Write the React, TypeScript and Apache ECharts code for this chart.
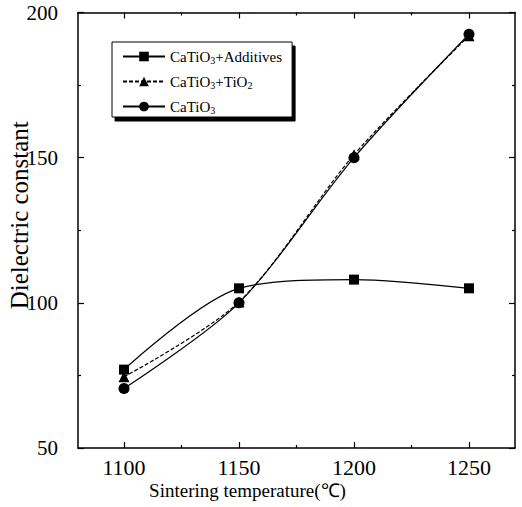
import React, { useEffect, useRef } from "react";
import * as echarts from "echarts";

const temperatures = [1100, 1150, 1200, 1250];
const additivesValues = [77, 105, 108, 105];
const tio2Values = [74.5, 100.3, 151, 192];
const catio3Values = [70.5, 100, 150, 192.5];
const seriesNames = ["CaTiO3+Additives", "CaTiO3+TiO2", "CaTiO3"];
const legendRich: Record<string, string> = {
  "CaTiO3+Additives": "{n|CaTiO}{s|3}{n|+Additives}",
  "CaTiO3+TiO2": "{n|CaTiO}{s|3}{n|+TiO}{s|2}",
  CaTiO3: "{n|CaTiO}{s|3}",
};
const xMajorTicks = [1100, 1150, 1200, 1250];
const xMinorTicks = [1125, 1175, 1225];

const FONT = "'Liberation Serif', 'Times New Roman', serif";

export default function App() {
  const ref = useRef<HTMLDivElement>(null);
  useEffect(() => {
    if (!ref.current) return;
    const chart = echarts.init(ref.current, null, { renderer: "svg" });
    const axisLine = { show: true, lineStyle: { color: "#000", width: 1.5 } };
    const baseX = { type: "value", min: 1080, max: 1270, splitLine: { show: false } };
    const baseY = { type: "value", min: 50, max: 200, interval: 50, splitLine: { show: false } };
    chart.setOption({
      animation: false,
      backgroundColor: "#fff",
      grid: { left: 78, top: 12.5, right: 7, bottom: 59, containLabel: false, outerBoundsMode: "none" },
      legend: {
        orient: "vertical",
        left: 112,
        top: 42,
        data: seriesNames,
        itemWidth: 42,
        itemHeight: 12,
        itemGap: 9,
        padding: [7, 10, 2, 10],
        backgroundColor: "#fff",
        borderColor: "#000",
        borderWidth: 1,
        shadowColor: "#000",
        shadowBlur: 0,
        shadowOffsetX: 3,
        shadowOffsetY: 4,
        formatter: (name: string) => legendRich[name] || name,
        textStyle: {
          fontFamily: FONT,
          color: "#000",
          rich: {
            n: { fontFamily: FONT, fontSize: 15, lineHeight: 17, color: "#000" },
            s: { fontFamily: FONT, fontSize: 10, lineHeight: 10, verticalAlign: "bottom", color: "#000" },
          },
        },
      },
      xAxis: [
        {
          ...baseX,
          position: "bottom",
          name: "Sintering temperature(℃)",
          nameLocation: "middle",
          nameGap: 33,
          nameMoveOverlap: false,
          nameTextStyle: { fontFamily: FONT, fontSize: 19, color: "#000", padding: [0, 98, 0, 0] },
          axisLine,
          axisTick: { show: true, inside: true, length: 6, customValues: xMajorTicks, lineStyle: { color: "#000", width: 1.2 } },
          axisLabel: {
            show: true,
            customValues: xMajorTicks,
            margin: 8,
            fontFamily: FONT,
            fontSize: 22,
            color: "#000",
            formatter: (v: number) => String(v),
          },
        },
        {
          ...baseX,
          position: "bottom",
          axisLine: { show: false },
          axisTick: { show: true, inside: true, length: 3, customValues: xMinorTicks, lineStyle: { color: "#000", width: 1.2 } },
          axisLabel: { show: false },
        },
        {
          ...baseX,
          position: "top",
          axisLine,
          axisTick: { show: true, inside: true, length: 6, customValues: xMajorTicks, lineStyle: { color: "#000", width: 1.2 } },
          axisLabel: { show: false },
        },
        {
          ...baseX,
          position: "top",
          axisLine: { show: false },
          axisTick: { show: true, inside: true, length: 3, customValues: xMinorTicks, lineStyle: { color: "#000", width: 1.2 } },
          axisLabel: { show: false },
        },
      ],
      yAxis: [
        {
          ...baseY,
          position: "left",
          name: "Dielectric constant",
          nameLocation: "middle",
          nameGap: 46,
          nameMoveOverlap: false,
          nameTextStyle: { fontFamily: FONT, fontSize: 25, color: "#000", padding: [0, 0, 0, 30] },
          axisLine,
          axisTick: { show: true, inside: true, length: 6, lineStyle: { color: "#000", width: 1.2 } },
          minorTick: { show: true, splitNumber: 2, length: 3, lineStyle: { color: "#000", width: 1.2 } },
          axisLabel: { show: true, margin: 20, fontFamily: FONT, fontSize: 21, color: "#000" },
        },
        {
          ...baseY,
          position: "right",
          axisLine,
          axisTick: { show: true, inside: true, length: 6, lineStyle: { color: "#000", width: 1.2 } },
          minorTick: { show: true, splitNumber: 2, length: 3, lineStyle: { color: "#000", width: 1.2 } },
          axisLabel: { show: false },
        },
      ],
      series: [
        {
          name: seriesNames[0],
          type: "line",
          smooth: 0.3,
          symbol: "rect",
          symbolSize: 10,
          data: temperatures.map((t, i) => [t, additivesValues[i]]),
          lineStyle: { color: "#000", width: 1.2, type: "solid" },
          itemStyle: { color: "#000" },
        },
        {
          name: seriesNames[1],
          type: "line",
          smooth: 0.3,
          symbol: "triangle",
          symbolSize: 11,
          data: temperatures.map((t, i) => [t, tio2Values[i]]),
          lineStyle: { color: "#000", width: 1.2, type: [4, 2] },
          itemStyle: { color: "#000" },
        },
        {
          name: seriesNames[2],
          type: "line",
          smooth: 0.3,
          symbol: "circle",
          symbolSize: 11,
          data: temperatures.map((t, i) => [t, catio3Values[i]]),
          lineStyle: { color: "#000", width: 1.2, type: "solid" },
          itemStyle: { color: "#000" },
        },
      ],
    });
    return () => chart.dispose();
  }, []);
  return <div ref={ref} style={{ position: "absolute", left: 0, top: 0, width: 522, height: 507 }} />;
}
